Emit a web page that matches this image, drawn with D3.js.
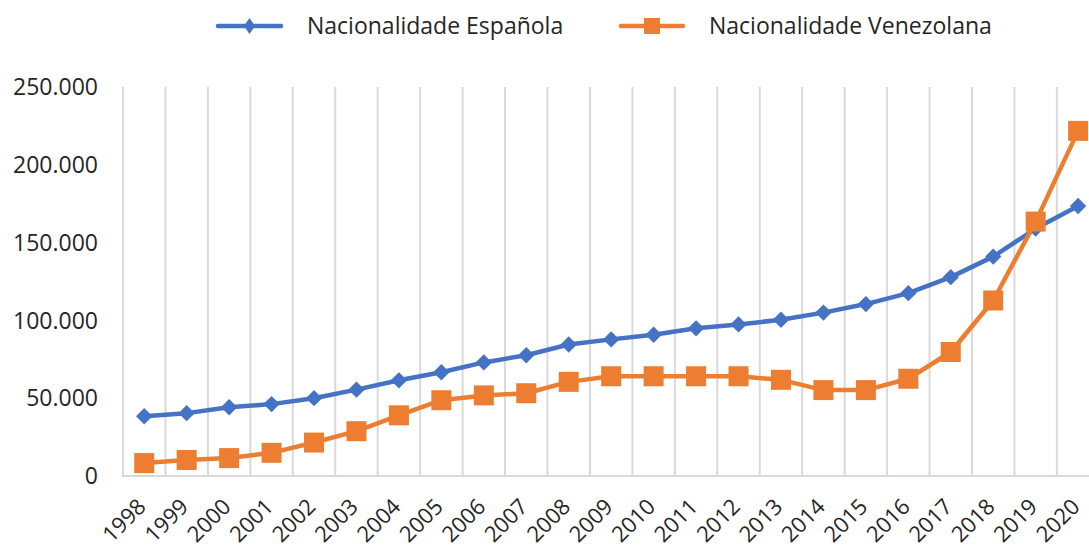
<!DOCTYPE html>
<html>
<head>
<meta charset="utf-8">
<script src="https://cdn.jsdelivr.net/npm/d3@7"></script>
<style>
  html, body { margin: 0; padding: 0; background: #fff; overflow: hidden; }
  svg { display: block; }
</style>
</head>
<body>
<div id="chart"></div>
<script>
const years = ["1998","1999","2000","2001","2002","2003","2004","2005","2006","2007","2008","2009","2010","2011","2012","2013","2014","2015","2016","2017","2018","2019","2020"];
const espanola = [38400, 40400, 44200, 46200, 50000, 55500, 61500, 66700, 73000, 77600, 84500, 87800, 90800, 94900, 97400, 100400, 105000, 110500, 117500, 127800, 141000, 159000, 173500];
const venezolana = [8300, 10300, 11500, 14900, 21500, 28800, 39000, 48700, 51800, 53200, 60500, 64100, 64100, 64100, 64100, 61800, 55200, 55200, 62500, 79700, 112800, 163500, 221800];
const yTicks = [0, 50000, 100000, 150000, 200000, 250000];
const seriesNames = ["Nacionalidade Española", "Nacionalidade Venezolana"];

const W = 1089, H = 553;
const FONT = "'Open Sans', sans-serif";
const TEXT = "#262626";
const BLUE = "#4472C4", ORANGE = "#ED7D31", GRID = "#D9D9D9";

const svg = d3.select("#chart").append("svg").attr("width", W).attr("height", H);

const x = d3.scaleBand().domain(years).range([123, 123 + 23 * 42.45]).padding(0);
const y = d3.scaleLinear().domain([0, 250000]).range([476, 87]);
const loc = d3.formatLocale({decimal: ",", thousands: ".", grouping: [3], currency: ["", ""]});
const fmt = loc.format(",");

// vertical gridlines at category boundaries
const bounds = years.map(d => x(d)).concat([x.range()[1]]);
svg.append("g").selectAll("line").data(bounds).join("line")
  .attr("x1", d => d).attr("x2", d => d)
  .attr("y1", y(250000)).attr("y2", y(0))
  .attr("stroke", GRID).attr("stroke-width", 2);

// baseline
svg.append("line")
  .attr("x1", x.range()[0] - 1).attr("x2", x.range()[1])
  .attr("y1", y(0)).attr("y2", y(0))
  .attr("stroke", GRID).attr("stroke-width", 2);

// y axis labels
svg.append("g").selectAll("text").data(yTicks).join("text")
  .attr("x", 98).attr("y", d => y(d))
  .attr("dy", "0.36em")
  .attr("text-anchor", "end")
  .attr("font-family", FONT).attr("font-size", 23)
  .attr("fill", TEXT)
  .text(d => fmt(d));

// x axis labels
svg.append("g").selectAll("text").data(years).join("text")
  .attr("transform", d => `translate(${x(d) + x.bandwidth() / 2 + 3},${y(0) + 32}) rotate(-45)`)
  .attr("text-anchor", "end")
  .attr("font-family", FONT).attr("font-size", 22)
  .attr("fill", TEXT)
  .text(d => d);

const cx = d => x(d) + x.bandwidth() / 2;
const line = d3.line().x((d, i) => cx(years[i])).y(d => y(d));

// Española
svg.append("path").datum(espanola)
  .attr("d", line).attr("fill", "none")
  .attr("stroke", BLUE).attr("stroke-width", 4.5).attr("stroke-linejoin", "round");
const diamond = d3.symbol().type(d3.symbolDiamond2).size(170);
svg.append("g").selectAll("path").data(espanola).join("path")
  .attr("transform", (d, i) => `translate(${cx(years[i])},${y(d)})`)
  .attr("d", diamond)
  .attr("fill", BLUE);

// Venezolana
svg.append("path").datum(venezolana)
  .attr("d", line).attr("fill", "none")
  .attr("stroke", ORANGE).attr("stroke-width", 4.5).attr("stroke-linejoin", "round");
const sq = 20;
svg.append("g").selectAll("rect").data(venezolana).join("rect")
  .attr("x", (d, i) => cx(years[i]) - sq / 2)
  .attr("y", d => y(d) - sq / 2)
  .attr("width", sq).attr("height", sq)
  .attr("fill", ORANGE);

// legend
const leg = svg.append("g");
const legItems = [
  {name: seriesNames[0], color: BLUE, x1: 218, x2: 281, tx: 307, marker: "diamond"},
  {name: seriesNames[1], color: ORANGE, x1: 621, x2: 683, tx: 709, marker: "square"}
];
const ly = 26;
legItems.forEach(it => {
  leg.append("line").attr("x1", it.x1).attr("x2", it.x2).attr("y1", ly).attr("y2", ly)
    .attr("stroke", it.color).attr("stroke-width", 4.5).attr("stroke-linecap", "round");
  const mx = (it.x1 + it.x2) / 2;
  if (it.marker === "diamond") {
    leg.append("path").attr("transform", `translate(${mx},${ly}) scale(0.8,1.15)`)
      .attr("d", d3.symbol().type(d3.symbolDiamond2).size(120)).attr("fill", it.color);
  } else {
    leg.append("rect").attr("x", mx - 8).attr("y", ly - 8).attr("width", 16).attr("height", 16).attr("fill", it.color);
  }
  leg.append("text").attr("x", it.tx).attr("y", ly).attr("dy", "0.36em")
    .attr("font-family", FONT).attr("font-size", 23).attr("fill", TEXT)
    .text(it.name);
});
</script>
</body>
</html>
